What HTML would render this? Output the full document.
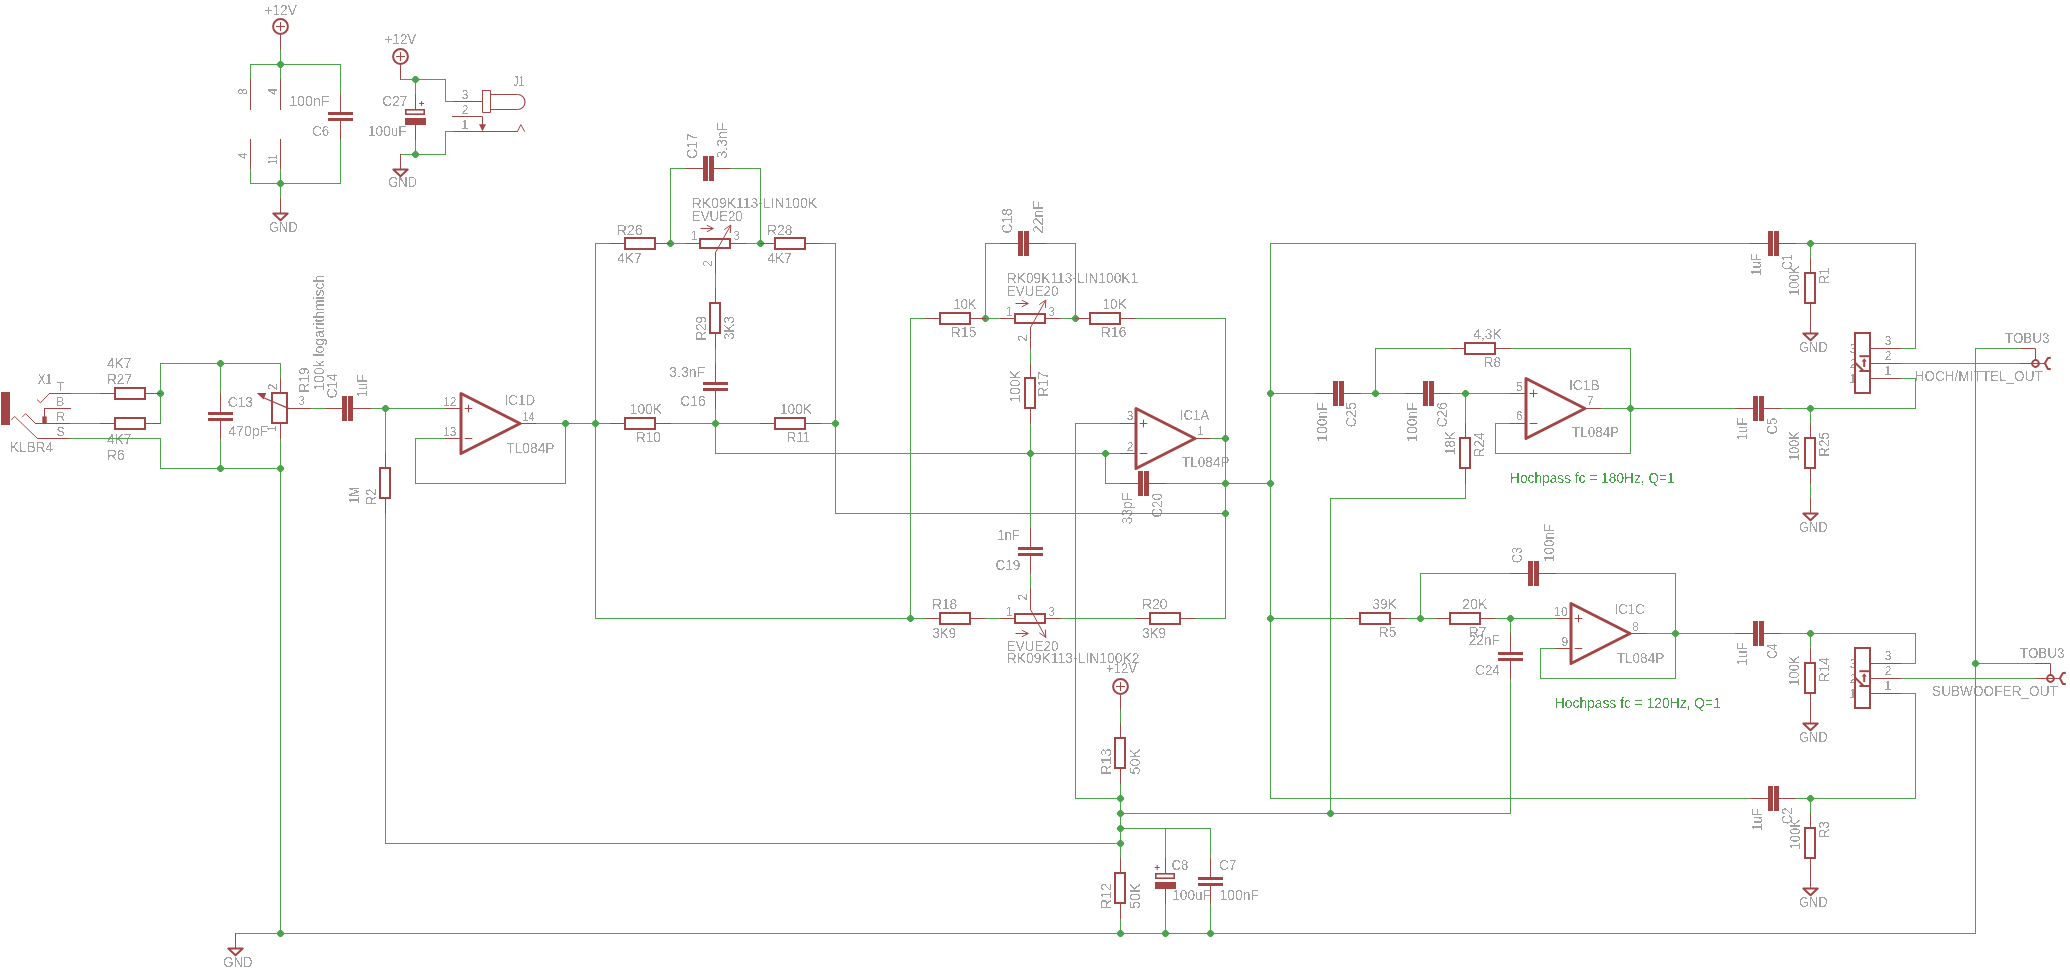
<!DOCTYPE html><html><head><meta charset="utf-8"><style>html,body{margin:0;padding:0;background:#fff;overflow:hidden}svg{display:block}text{font-family:"Liberation Sans",sans-serif}</style></head><body><svg width="2070" height="972" viewBox="0 0 2070 972"><rect width="2070" height="972" fill="#fff"/><defs><filter id="crisp" x="0" y="0" width="2070" height="972" filterUnits="userSpaceOnUse"><feComponentTransfer><feFuncA type="discrete" tableValues="0 1"/></feComponentTransfer></filter></defs><g fill="#a2a2a2" filter="url(#crisp)" font-family="Liberation Sans, sans-serif"><text x="264.5" y="14.8" font-size="14.5" textLength="32.3" lengthAdjust="spacingAndGlyphs">+12V</text><text x="289.2" y="105.9" font-size="14.5" textLength="40.23" lengthAdjust="spacing">100nF</text><text x="312.25" y="135.7" font-size="14.5" textLength="16.99" lengthAdjust="spacingAndGlyphs">C6</text><text transform="translate(246.7,95) rotate(-90)" font-size="12">8</text><text transform="translate(276.7,94.75) rotate(-90)" font-size="12">4</text><text transform="translate(246.7,159.05) rotate(-90)" font-size="12">4</text><text transform="translate(276.7,164.45) rotate(-90)" font-size="12" textLength="9.86" lengthAdjust="spacingAndGlyphs">11</text><text x="268.95" y="232.15" font-size="14.5" textLength="28.72" lengthAdjust="spacingAndGlyphs">GND</text><text x="384.7" y="44.05" font-size="14.5" textLength="31.59" lengthAdjust="spacingAndGlyphs">+12V</text><text x="382.15" y="106" font-size="14.5" textLength="25.4" lengthAdjust="spacingAndGlyphs">C27</text><text x="368" y="135.8" font-size="14.5" textLength="38.63" lengthAdjust="spacingAndGlyphs">100uF</text><text x="388.25" y="186.65" font-size="14.5" textLength="28.83" lengthAdjust="spacingAndGlyphs">GND</text><text x="512.95" y="85.7" font-size="14.5" textLength="11.42" lengthAdjust="spacingAndGlyphs">J1</text><text x="461.7" y="98.7" font-size="12">3</text><text x="461.7" y="113.8" font-size="12">2</text><text x="461.45" y="128.6" font-size="12">1</text><text x="37.7" y="383.9" font-size="14.5" textLength="14.31" lengthAdjust="spacingAndGlyphs">X1</text><text x="56.45" y="390.9" font-size="12.6">T</text><text x="55.9" y="405.6" font-size="12.6">B</text><text x="55.9" y="420.9" font-size="12.6">R</text><text x="56.4" y="435.9" font-size="12.6">S</text><text x="10.1" y="451.9" font-size="14.5" textLength="42.86" lengthAdjust="spacingAndGlyphs">KLBR4</text><text x="106.95" y="368.25" font-size="14.5" textLength="24.47" lengthAdjust="spacingAndGlyphs">4K7</text><text x="106.9" y="384.35" font-size="14.5" textLength="25.12" lengthAdjust="spacingAndGlyphs">R27</text><text x="106.95" y="443.65" font-size="14.5" textLength="24.47" lengthAdjust="spacingAndGlyphs">4K7</text><text x="106.9" y="459.65" font-size="14.5" textLength="17.78" lengthAdjust="spacingAndGlyphs">R6</text><text x="227.75" y="406.65" font-size="14.5" textLength="25.29" lengthAdjust="spacingAndGlyphs">C13</text><text x="228.25" y="435.65" font-size="14.5" textLength="39.85" lengthAdjust="spacingAndGlyphs">470pF</text><text x="298.2" y="405.25" font-size="12">3</text><text transform="translate(277.1,390.2) rotate(-90)" font-size="12">2</text><text transform="translate(276.3,431.85) rotate(-90)" font-size="12">1</text><text transform="translate(308.9,392.5) rotate(-90)" font-size="14.5" textLength="25.12" lengthAdjust="spacingAndGlyphs">R19</text><text transform="translate(323.7,390.5) rotate(-90)" font-size="14.5" textLength="115.72" lengthAdjust="spacingAndGlyphs">100k logarithmisch</text><text transform="translate(337,398.35) rotate(-90)" font-size="14.5" textLength="24.73" lengthAdjust="spacingAndGlyphs">C14</text><text transform="translate(367.1,397.2) rotate(-90)" font-size="14.5" textLength="22.34" lengthAdjust="spacingAndGlyphs">1uF</text><text transform="translate(375.7,505.1) rotate(-90)" font-size="14.5" textLength="16.47" lengthAdjust="spacingAndGlyphs">R2</text><text transform="translate(358.7,503.5) rotate(-90)" font-size="14.5" textLength="16.8" lengthAdjust="spacingAndGlyphs">1M</text><text x="443.35" y="405.7" font-size="12" textLength="13.01" lengthAdjust="spacing">12</text><text x="443.35" y="435.8" font-size="12" textLength="13.01" lengthAdjust="spacing">13</text><text x="522.45" y="420.8" font-size="12" textLength="12.18" lengthAdjust="spacingAndGlyphs">14</text><text x="504.55" y="404.8" font-size="14.5" textLength="30.56" lengthAdjust="spacingAndGlyphs">IC1D</text><text x="506.15" y="452.8" font-size="14.5" textLength="48.4" lengthAdjust="spacingAndGlyphs">TL084P</text><text x="616.5" y="234.65" font-size="14.5" textLength="26.21" lengthAdjust="spacing">R26</text><text x="617.25" y="262.65" font-size="14.5" textLength="24.37" lengthAdjust="spacingAndGlyphs">4K7</text><text x="767" y="234.65" font-size="14.5" textLength="25.44" lengthAdjust="spacingAndGlyphs">R28</text><text x="767.25" y="262.65" font-size="14.5" textLength="24.47" lengthAdjust="spacingAndGlyphs">4K7</text><text x="691.8" y="208.35" font-size="14.5" textLength="125.18" lengthAdjust="spacingAndGlyphs">RK09K113-LIN100K</text><text x="691.8" y="220.65" font-size="14.5" textLength="50.96" lengthAdjust="spacingAndGlyphs">EVUE20</text><text x="690.75" y="240.45" font-size="12">1</text><text x="733.2" y="240.45" font-size="12">3</text><text transform="translate(711.7,266.8) rotate(-90)" font-size="12">2</text><text transform="translate(696.9,158.65) rotate(-90)" font-size="14.5" textLength="25.4" lengthAdjust="spacingAndGlyphs">C17</text><text transform="translate(726.9,158.4) rotate(-90)" font-size="14.5" textLength="35.75" lengthAdjust="spacingAndGlyphs">3.3nF</text><text transform="translate(706.1,340.5) rotate(-90)" font-size="14.5" textLength="24.48" lengthAdjust="spacingAndGlyphs">R29</text><text transform="translate(734.2,340) rotate(-90)" font-size="14.5" textLength="23.99" lengthAdjust="spacingAndGlyphs">3K3</text><text x="669.3" y="376.65" font-size="14.5" textLength="35.75" lengthAdjust="spacingAndGlyphs">3.3nF</text><text x="680.15" y="406.15" font-size="14.5" textLength="25.5" lengthAdjust="spacingAndGlyphs">C16</text><text x="629.7" y="414.35" font-size="14.5" textLength="32.42" lengthAdjust="spacingAndGlyphs">100K</text><text x="635.9" y="441.95" font-size="14.5" textLength="24.87" lengthAdjust="spacingAndGlyphs">R10</text><text x="779.9" y="414.35" font-size="14.5" textLength="32.1" lengthAdjust="spacingAndGlyphs">100K</text><text x="787" y="441.95" font-size="14.5" textLength="22.87" lengthAdjust="spacingAndGlyphs">R11</text><text x="953.2" y="308.95" font-size="14.5" textLength="23.39" lengthAdjust="spacingAndGlyphs">10K</text><text x="950.7" y="337.25" font-size="14.5" textLength="25.76" lengthAdjust="spacingAndGlyphs">R15</text><text x="1102.5" y="308.95" font-size="14.5" textLength="24.23" lengthAdjust="spacingAndGlyphs">10K</text><text x="1100.5" y="337.25" font-size="14.5" textLength="26.11" lengthAdjust="spacing">R16</text><text x="1006.8" y="283.45" font-size="14.5" textLength="131.36" lengthAdjust="spacingAndGlyphs">RK09K113-LIN100K1</text><text x="1006.8" y="295.85" font-size="14.5" textLength="51.57" lengthAdjust="spacingAndGlyphs">EVUE20</text><text x="1005.75" y="315.65" font-size="12">1</text><text x="1048.2" y="315.65" font-size="12">3</text><text transform="translate(1027.2,341.5) rotate(-90)" font-size="12">2</text><text transform="translate(1012.4,233.45) rotate(-90)" font-size="14.5" textLength="24.98" lengthAdjust="spacingAndGlyphs">C18</text><text transform="translate(1042.7,233.45) rotate(-90)" font-size="14.5" textLength="32.51" lengthAdjust="spacing">22nF</text><text transform="translate(1019.7,402.4) rotate(-90)" font-size="14.5" textLength="32.21" lengthAdjust="spacingAndGlyphs">100K</text><text transform="translate(1048.2,396.7) rotate(-90)" font-size="14.5" textLength="25.23" lengthAdjust="spacingAndGlyphs">R17</text><text x="997.4" y="539.85" font-size="14.5" textLength="22.02" lengthAdjust="spacingAndGlyphs">1nF</text><text x="995.45" y="569.75" font-size="14.5" textLength="24.98" lengthAdjust="spacingAndGlyphs">C19</text><text x="932" y="609.05" font-size="14.5" textLength="25.23" lengthAdjust="spacingAndGlyphs">R18</text><text x="932.5" y="637.65" font-size="14.5" textLength="23.47" lengthAdjust="spacingAndGlyphs">3K9</text><text x="1141.8" y="609.05" font-size="14.5" textLength="25.86" lengthAdjust="spacing">R20</text><text x="1142.3" y="637.65" font-size="14.5" textLength="23.67" lengthAdjust="spacingAndGlyphs">3K9</text><text x="1006.8" y="650.65" font-size="14.5" textLength="51.57" lengthAdjust="spacingAndGlyphs">EVUE20</text><text x="1006.8" y="662.85" font-size="14.5" textLength="132.67" lengthAdjust="spacingAndGlyphs">RK09K113-LIN100K2</text><text x="1005.75" y="615.65" font-size="12">1</text><text x="1048.2" y="615.65" font-size="12">3</text><text transform="translate(1027.2,600.5) rotate(-90)" font-size="12">2</text><text x="1126.7" y="419.85" font-size="12">3</text><text x="1126.7" y="450.65" font-size="12">2</text><text x="1197.25" y="435.05" font-size="12">1</text><text x="1179.95" y="419.85" font-size="14.5" textLength="29.23" lengthAdjust="spacingAndGlyphs">IC1A</text><text x="1181.95" y="467.45" font-size="14.5" textLength="47.58" lengthAdjust="spacingAndGlyphs">TL084P</text><text transform="translate(1131.9,524.2) rotate(-90)" font-size="14.5" textLength="31.41" lengthAdjust="spacingAndGlyphs">33pF</text><text transform="translate(1161.8,517.55) rotate(-90)" font-size="14.5" textLength="24.52" lengthAdjust="spacingAndGlyphs">C20</text><text x="1106" y="673.25" font-size="14.5" textLength="31.18" lengthAdjust="spacingAndGlyphs">+12V</text><text transform="translate(1111,774.9) rotate(-90)" font-size="14.5" textLength="26.51" lengthAdjust="spacing">R13</text><text transform="translate(1139.5,774.4) rotate(-90)" font-size="14.5" textLength="25.71" lengthAdjust="spacing">50K</text><text transform="translate(1111,909.5) rotate(-90)" font-size="14.5" textLength="26.61" lengthAdjust="spacing">R12</text><text transform="translate(1139.5,909) rotate(-90)" font-size="14.5" textLength="25.81" lengthAdjust="spacing">50K</text><text x="1171.45" y="869.95" font-size="14.5" textLength="16.99" lengthAdjust="spacingAndGlyphs">C8</text><text x="1172.2" y="900.35" font-size="14.5" textLength="38.83" lengthAdjust="spacingAndGlyphs">100uF</text><text x="1219.35" y="869.65" font-size="14.5" textLength="17.1" lengthAdjust="spacingAndGlyphs">C7</text><text x="1219.5" y="900.35" font-size="14.5" textLength="39.56" lengthAdjust="spacingAndGlyphs">100nF</text><text x="223.25" y="966.9" font-size="14.5" textLength="29.14" lengthAdjust="spacingAndGlyphs">GND</text><text x="1473.25" y="339.15" font-size="14.5" textLength="28.36" lengthAdjust="spacingAndGlyphs">4,3K</text><text x="1483.8" y="366.65" font-size="14.5" textLength="17.35" lengthAdjust="spacingAndGlyphs">R8</text><text x="1568.95" y="389.65" font-size="14.5" textLength="30.7" lengthAdjust="spacingAndGlyphs">IC1B</text><text x="1571.95" y="437.35" font-size="14.5" textLength="47.27" lengthAdjust="spacingAndGlyphs">TL084P</text><text x="1516" y="390.65" font-size="12">5</text><text x="1516" y="420.45" font-size="12">6</text><text x="1587" y="405.05" font-size="12">7</text><text transform="translate(1326.6,441.9) rotate(-90)" font-size="14.5" textLength="39.67" lengthAdjust="spacingAndGlyphs">100nF</text><text transform="translate(1356.4,427.25) rotate(-90)" font-size="14.5" textLength="24.98" lengthAdjust="spacingAndGlyphs">C25</text><text transform="translate(1416.6,441.9) rotate(-90)" font-size="14.5" textLength="39.67" lengthAdjust="spacingAndGlyphs">100nF</text><text transform="translate(1446.9,427.25) rotate(-90)" font-size="14.5" textLength="24.98" lengthAdjust="spacingAndGlyphs">C26</text><text transform="translate(1455.2,454.7) rotate(-90)" font-size="14.5" textLength="23.39" lengthAdjust="spacingAndGlyphs">18K</text><text transform="translate(1484,457.3) rotate(-90)" font-size="14.5" textLength="25.08" lengthAdjust="spacingAndGlyphs">R24</text><text x="1510" y="482.8" font-size="14.5" textLength="164.71" lengthAdjust="spacingAndGlyphs" fill="#4aa24a">Hochpass fc = 180Hz, Q=1</text><text x="1372.5" y="608.65" font-size="14.5" textLength="24.26" lengthAdjust="spacingAndGlyphs">39K</text><text x="1378.8" y="636.85" font-size="14.5" textLength="17.46" lengthAdjust="spacingAndGlyphs">R5</text><text x="1462.35" y="608.65" font-size="14.5" textLength="24.93" lengthAdjust="spacingAndGlyphs">20K</text><text x="1468.9" y="636.85" font-size="14.5" textLength="17.35" lengthAdjust="spacingAndGlyphs">R7</text><text x="1468.45" y="644.65" font-size="14.5" textLength="31.55" lengthAdjust="spacingAndGlyphs">22nF</text><text x="1475.25" y="674.85" font-size="14.5" textLength="24.52" lengthAdjust="spacingAndGlyphs">C24</text><text transform="translate(1522.3,563.25) rotate(-90)" font-size="14.5" textLength="16.45" lengthAdjust="spacingAndGlyphs">C3</text><text transform="translate(1553.5,561.9) rotate(-90)" font-size="14.5" textLength="37.9" lengthAdjust="spacingAndGlyphs">100nF</text><text x="1554.05" y="616.05" font-size="12" textLength="13.61" lengthAdjust="spacing">10</text><text x="1561.5" y="645.95" font-size="12">9</text><text x="1632.3" y="631.25" font-size="12">8</text><text x="1614.65" y="614.25" font-size="14.5" textLength="30.03" lengthAdjust="spacingAndGlyphs">IC1C</text><text x="1616.75" y="662.95" font-size="14.5" textLength="47.48" lengthAdjust="spacingAndGlyphs">TL084P</text><text x="1554.8" y="707.8" font-size="14.5" textLength="166.02" lengthAdjust="spacingAndGlyphs" fill="#4aa24a">Hochpass fc = 120Hz, Q=1</text><text x="1798.95" y="352.15" font-size="14.5" textLength="28.72" lengthAdjust="spacingAndGlyphs">GND</text><text transform="translate(1761.4,275.8) rotate(-90)" font-size="14.5" textLength="22.45" lengthAdjust="spacingAndGlyphs">1uF</text><text transform="translate(1792.3,270.05) rotate(-90)" font-size="14.5" textLength="15.59" lengthAdjust="spacingAndGlyphs">C1</text><text transform="translate(1799.4,295.7) rotate(-90)" font-size="14.5" textLength="30.12" lengthAdjust="spacingAndGlyphs">100K</text><text transform="translate(1828.8,284.2) rotate(-90)" font-size="14.5" textLength="16.47" lengthAdjust="spacingAndGlyphs">R1</text><text x="1884.7" y="345.3" font-size="12">3</text><text x="1884.7" y="360.3" font-size="12">2</text><text x="1884.45" y="375.3" font-size="12">1</text><text x="1849.7" y="352.8" font-size="12">3</text><text x="1849.7" y="367.9" font-size="12">2</text><text x="1849.45" y="382.7" font-size="12">1</text><text x="1798.95" y="532.15" font-size="14.5" textLength="28.72" lengthAdjust="spacingAndGlyphs">GND</text><text transform="translate(1747,440.3) rotate(-90)" font-size="14.5" textLength="22.45" lengthAdjust="spacingAndGlyphs">1uF</text><text transform="translate(1776.8,434.55) rotate(-90)" font-size="14.5" textLength="16.77" lengthAdjust="spacingAndGlyphs">C5</text><text transform="translate(1799.4,460.7) rotate(-90)" font-size="14.5" textLength="29.39" lengthAdjust="spacingAndGlyphs">100K</text><text transform="translate(1828.8,456.9) rotate(-90)" font-size="14.5" textLength="24.91" lengthAdjust="spacingAndGlyphs">R25</text><text x="2004.95" y="342.8" font-size="14.5" textLength="44.58" lengthAdjust="spacingAndGlyphs">TOBU3</text><text x="1914.6" y="380.8" font-size="14.5" textLength="128.13" lengthAdjust="spacingAndGlyphs">HOCH/MITTEL_OUT</text><text x="1798.95" y="742.15" font-size="14.5" textLength="28.72" lengthAdjust="spacingAndGlyphs">GND</text><text transform="translate(1747,665.8) rotate(-90)" font-size="14.5" textLength="23.72" lengthAdjust="spacingAndGlyphs">1uF</text><text transform="translate(1776.8,658.85) rotate(-90)" font-size="14.5" textLength="15.37" lengthAdjust="spacingAndGlyphs">C4</text><text transform="translate(1799.4,685.7) rotate(-90)" font-size="14.5" textLength="30.12" lengthAdjust="spacingAndGlyphs">100K</text><text transform="translate(1828.8,681.9) rotate(-90)" font-size="14.5" textLength="24.66" lengthAdjust="spacingAndGlyphs">R14</text><text x="1884.7" y="660.3" font-size="12">3</text><text x="1884.7" y="675.3" font-size="12">2</text><text x="1884.45" y="690.3" font-size="12">1</text><text x="1849.7" y="667.8" font-size="12">3</text><text x="1849.7" y="682.9" font-size="12">2</text><text x="1849.45" y="697.7" font-size="12">1</text><text x="2019.95" y="657.9" font-size="14.5" textLength="44.58" lengthAdjust="spacingAndGlyphs">TOBU3</text><text x="1932.05" y="696.1" font-size="14.5" textLength="125.83" lengthAdjust="spacingAndGlyphs">SUBWOOFER_OUT</text><text x="1798.95" y="907.15" font-size="14.5" textLength="28.72" lengthAdjust="spacingAndGlyphs">GND</text><text transform="translate(1761.9,830.8) rotate(-90)" font-size="14.5" textLength="22.66" lengthAdjust="spacingAndGlyphs">1uF</text><text transform="translate(1792.4,824.25) rotate(-90)" font-size="14.5" textLength="16.77" lengthAdjust="spacingAndGlyphs">C2</text><text transform="translate(1800.1,849.5) rotate(-90)" font-size="14.5" textLength="30.44" lengthAdjust="spacingAndGlyphs">100K</text><text transform="translate(1828.8,838) rotate(-90)" font-size="14.5" textLength="16.91" lengthAdjust="spacingAndGlyphs">R3</text></g><g fill="none" stroke="#4ba34b" stroke-width="1" stroke-linecap="square" shape-rendering="crispEdges"><path d="M280.5,49.5 L280.5,64.5"/><path d="M250.5,79.5 L250.5,64.5 L340.5,64.5 L340.5,94.5"/><path d="M280.5,64.5 L280.5,79.5"/><path d="M250.5,168.5 L250.5,183.5 L340.5,183.5 L340.5,139.5"/><path d="M280.5,168.5 L280.5,198.5"/><path d="M400.5,79.5 L445.5,79.5 L445.5,101.5 L453.5,101.5"/><path d="M415.5,79.5 L415.5,94.5"/><path d="M415.5,139.5 L415.5,154.5"/><path d="M400.5,154.5 L445.5,154.5 L445.5,131.5 L453.5,131.5"/><path d="M70.5,393.5 L100.5,393.5"/><path d="M70.5,423.5 L100.5,423.5"/><path d="M160.5,423.5 L160.5,363.5 L280.5,363.5 L280.5,378.5"/><path d="M70.5,438.5 L160.5,438.5 L160.5,468.5 L280.5,468.5"/><path d="M220.5,363.5 L220.5,393.5"/><path d="M220.5,438.5 L220.5,468.5"/><path d="M280.5,438.5 L280.5,933.5"/><path d="M310.5,408.5 L325.5,408.5"/><path d="M370.5,408.5 L445.5,408.5"/><path d="M385.5,408.5 L385.5,453.5"/><path d="M385.5,513.5 L385.5,843.5 L1120.5,843.5"/><path d="M415.5,438.5 L445.5,438.5"/><path d="M415.5,438.5 L415.5,483.5 L565.5,483.5 L565.5,423.5"/><path d="M535.5,423.5 L610.5,423.5"/><path d="M610.5,243.5 L595.5,243.5 L595.5,618.5 L925.5,618.5"/><path d="M670.5,243.5 L685.5,243.5"/><path d="M745.5,243.5 L760.5,243.5"/><path d="M685.5,168.5 L670.5,168.5 L670.5,243.5"/><path d="M730.5,168.5 L760.5,168.5 L760.5,243.5"/><path d="M820.5,243.5 L835.5,243.5 L835.5,513.5 L1225.5,513.5"/><path d="M715.5,273.5 L715.5,288.5"/><path d="M715.5,348.5 L715.5,363.5"/><path d="M670.5,423.5 L760.5,423.5"/><path d="M820.5,423.5 L835.5,423.5"/><path d="M715.5,408.5 L715.5,453.5 L1120.5,453.5"/><path d="M925.5,318.5 L910.5,318.5 L910.5,618.5"/><path d="M985.5,318.5 L1000.5,318.5"/><path d="M1060.5,318.5 L1075.5,318.5"/><path d="M1000.5,243.5 L985.5,243.5 L985.5,318.5"/><path d="M1045.5,243.5 L1075.5,243.5 L1075.5,318.5"/><path d="M1135.5,318.5 L1225.5,318.5 L1225.5,618.5 L1195.5,618.5"/><path d="M1030.5,348.5 L1030.5,363.5"/><path d="M1030.5,423.5 L1030.5,528.5"/><path d="M1030.5,573.5 L1030.5,588.5"/><path d="M985.5,618.5 L1000.5,618.5"/><path d="M1060.5,618.5 L1135.5,618.5"/><path d="M1075.5,423.5 L1120.5,423.5"/><path d="M1075.5,423.5 L1075.5,798.5 L1120.5,798.5"/><path d="M1105.5,453.5 L1105.5,483.5 L1120.5,483.5"/><path d="M1165.5,483.5 L1270.5,483.5"/><path d="M1210.5,438.5 L1225.5,438.5"/><path d="M1120.5,709.5 L1120.5,723.5"/><path d="M1120.5,783.5 L1120.5,858.5"/><path d="M1120.5,918.5 L1120.5,933.5"/><path d="M1120.5,828.5 L1210.5,828.5 L1210.5,858.5"/><path d="M1165.5,828.5 L1165.5,858.5"/><path d="M1165.5,903.5 L1165.5,933.5"/><path d="M1210.5,903.5 L1210.5,933.5"/><path d="M1120.5,813.5 L1510.5,813.5"/><path d="M235.5,933.5 L1975.5,933.5"/><path d="M1270.5,243.5 L1270.5,798.5 L1750.5,798.5"/><path d="M1270.5,243.5 L1750.5,243.5"/><path d="M1270.5,393.5 L1315.5,393.5"/><path d="M1360.5,393.5 L1405.5,393.5"/><path d="M1450.5,393.5 L1510.5,393.5"/><path d="M1375.5,393.5 L1375.5,348.5 L1450.5,348.5"/><path d="M1510.5,348.5 L1630.5,348.5 L1630.5,453.5 L1495.5,453.5 L1495.5,423.5 L1510.5,423.5"/><path d="M1600.5,408.5 L1735.5,408.5"/><path d="M1465.5,393.5 L1465.5,423.5"/><path d="M1465.5,483.5 L1465.5,498.5 L1330.5,498.5 L1330.5,813.5"/><path d="M1270.5,618.5 L1345.5,618.5"/><path d="M1405.5,618.5 L1435.5,618.5"/><path d="M1495.5,618.5 L1555.5,618.5"/><path d="M1420.5,618.5 L1420.5,573.5 L1510.5,573.5"/><path d="M1555.5,573.5 L1675.5,573.5 L1675.5,678.5 L1540.5,678.5 L1540.5,648.5 L1555.5,648.5"/><path d="M1645.5,633.5 L1735.5,633.5"/><path d="M1510.5,618.5 L1510.5,633.5"/><path d="M1510.5,678.5 L1510.5,813.5"/><path d="M1795.5,243.5 L1915.5,243.5 L1915.5,348.5 L1900.5,348.5"/><path d="M1810.5,243.5 L1810.5,258.5"/><path d="M1780.5,408.5 L1915.5,408.5 L1915.5,378.5 L1900.5,378.5"/><path d="M1810.5,408.5 L1810.5,423.5"/><path d="M1810.5,483.5 L1810.5,498.5"/><path d="M1900.5,363.5 L2020.5,363.5"/><path d="M1975.5,348.5 L2020.5,348.5"/><path d="M1975.5,348.5 L1975.5,933.5"/><path d="M1780.5,633.5 L1915.5,633.5 L1915.5,663.5 L1900.5,663.5"/><path d="M1810.5,633.5 L1810.5,648.5"/><path d="M1900.5,678.5 L2035.5,678.5"/><path d="M1975.5,663.5 L2035.5,663.5"/><path d="M1795.5,798.5 L1915.5,798.5 L1915.5,693.5 L1900.5,693.5"/><path d="M1810.5,798.5 L1810.5,813.5"/></g><g fill="#4ba34b"><polygon points="279.5,60.9 281.5,60.9 284.1,63.5 284.1,65.5 281.5,68.1 279.5,68.1 276.9,65.5 276.9,63.5"/><polygon points="279.5,179.9 281.5,179.9 284.1,182.5 284.1,184.5 281.5,187.1 279.5,187.1 276.9,184.5 276.9,182.5"/><polygon points="414.5,75.9 416.5,75.9 419.1,78.5 419.1,80.5 416.5,83.1 414.5,83.1 411.9,80.5 411.9,78.5"/><polygon points="414.5,150.9 416.5,150.9 419.1,153.5 419.1,155.5 416.5,158.1 414.5,158.1 411.9,155.5 411.9,153.5"/><polygon points="159.5,389.9 161.5,389.9 164.1,392.5 164.1,394.5 161.5,397.1 159.5,397.1 156.9,394.5 156.9,392.5"/><polygon points="219.5,359.9 221.5,359.9 224.1,362.5 224.1,364.5 221.5,367.1 219.5,367.1 216.9,364.5 216.9,362.5"/><polygon points="219.5,464.9 221.5,464.9 224.1,467.5 224.1,469.5 221.5,472.1 219.5,472.1 216.9,469.5 216.9,467.5"/><polygon points="279.5,464.9 281.5,464.9 284.1,467.5 284.1,469.5 281.5,472.1 279.5,472.1 276.9,469.5 276.9,467.5"/><polygon points="384.5,404.9 386.5,404.9 389.1,407.5 389.1,409.5 386.5,412.1 384.5,412.1 381.9,409.5 381.9,407.5"/><polygon points="564.5,419.9 566.5,419.9 569.1,422.5 569.1,424.5 566.5,427.1 564.5,427.1 561.9,424.5 561.9,422.5"/><polygon points="594.5,419.9 596.5,419.9 599.1,422.5 599.1,424.5 596.5,427.1 594.5,427.1 591.9,424.5 591.9,422.5"/><polygon points="669.5,239.9 671.5,239.9 674.1,242.5 674.1,244.5 671.5,247.1 669.5,247.1 666.9,244.5 666.9,242.5"/><polygon points="759.5,239.9 761.5,239.9 764.1,242.5 764.1,244.5 761.5,247.1 759.5,247.1 756.9,244.5 756.9,242.5"/><polygon points="714.5,419.9 716.5,419.9 719.1,422.5 719.1,424.5 716.5,427.1 714.5,427.1 711.9,424.5 711.9,422.5"/><polygon points="834.5,419.9 836.5,419.9 839.1,422.5 839.1,424.5 836.5,427.1 834.5,427.1 831.9,424.5 831.9,422.5"/><polygon points="909.5,614.9 911.5,614.9 914.1,617.5 914.1,619.5 911.5,622.1 909.5,622.1 906.9,619.5 906.9,617.5"/><polygon points="984.5,314.9 986.5,314.9 989.1,317.5 989.1,319.5 986.5,322.1 984.5,322.1 981.9,319.5 981.9,317.5"/><polygon points="1074.5,314.9 1076.5,314.9 1079.1,317.5 1079.1,319.5 1076.5,322.1 1074.5,322.1 1071.9,319.5 1071.9,317.5"/><polygon points="1029.5,449.9 1031.5,449.9 1034.1,452.5 1034.1,454.5 1031.5,457.1 1029.5,457.1 1026.9,454.5 1026.9,452.5"/><polygon points="1104.5,449.9 1106.5,449.9 1109.1,452.5 1109.1,454.5 1106.5,457.1 1104.5,457.1 1101.9,454.5 1101.9,452.5"/><polygon points="1224.5,434.9 1226.5,434.9 1229.1,437.5 1229.1,439.5 1226.5,442.1 1224.5,442.1 1221.9,439.5 1221.9,437.5"/><polygon points="1224.5,479.9 1226.5,479.9 1229.1,482.5 1229.1,484.5 1226.5,487.1 1224.5,487.1 1221.9,484.5 1221.9,482.5"/><polygon points="1224.5,509.9 1226.5,509.9 1229.1,512.5 1229.1,514.5 1226.5,517.1 1224.5,517.1 1221.9,514.5 1221.9,512.5"/><polygon points="1119.5,794.9 1121.5,794.9 1124.1,797.5 1124.1,799.5 1121.5,802.1 1119.5,802.1 1116.9,799.5 1116.9,797.5"/><polygon points="1119.5,809.9 1121.5,809.9 1124.1,812.5 1124.1,814.5 1121.5,817.1 1119.5,817.1 1116.9,814.5 1116.9,812.5"/><polygon points="1119.5,824.9 1121.5,824.9 1124.1,827.5 1124.1,829.5 1121.5,832.1 1119.5,832.1 1116.9,829.5 1116.9,827.5"/><polygon points="1119.5,839.9 1121.5,839.9 1124.1,842.5 1124.1,844.5 1121.5,847.1 1119.5,847.1 1116.9,844.5 1116.9,842.5"/><polygon points="1329.5,809.9 1331.5,809.9 1334.1,812.5 1334.1,814.5 1331.5,817.1 1329.5,817.1 1326.9,814.5 1326.9,812.5"/><polygon points="279.5,929.9 281.5,929.9 284.1,932.5 284.1,934.5 281.5,937.1 279.5,937.1 276.9,934.5 276.9,932.5"/><polygon points="1119.5,929.9 1121.5,929.9 1124.1,932.5 1124.1,934.5 1121.5,937.1 1119.5,937.1 1116.9,934.5 1116.9,932.5"/><polygon points="1164.5,929.9 1166.5,929.9 1169.1,932.5 1169.1,934.5 1166.5,937.1 1164.5,937.1 1161.9,934.5 1161.9,932.5"/><polygon points="1209.5,929.9 1211.5,929.9 1214.1,932.5 1214.1,934.5 1211.5,937.1 1209.5,937.1 1206.9,934.5 1206.9,932.5"/><polygon points="1269.5,389.9 1271.5,389.9 1274.1,392.5 1274.1,394.5 1271.5,397.1 1269.5,397.1 1266.9,394.5 1266.9,392.5"/><polygon points="1269.5,479.9 1271.5,479.9 1274.1,482.5 1274.1,484.5 1271.5,487.1 1269.5,487.1 1266.9,484.5 1266.9,482.5"/><polygon points="1269.5,614.9 1271.5,614.9 1274.1,617.5 1274.1,619.5 1271.5,622.1 1269.5,622.1 1266.9,619.5 1266.9,617.5"/><polygon points="1374.5,389.9 1376.5,389.9 1379.1,392.5 1379.1,394.5 1376.5,397.1 1374.5,397.1 1371.9,394.5 1371.9,392.5"/><polygon points="1464.5,389.9 1466.5,389.9 1469.1,392.5 1469.1,394.5 1466.5,397.1 1464.5,397.1 1461.9,394.5 1461.9,392.5"/><polygon points="1629.5,404.9 1631.5,404.9 1634.1,407.5 1634.1,409.5 1631.5,412.1 1629.5,412.1 1626.9,409.5 1626.9,407.5"/><polygon points="1419.5,614.9 1421.5,614.9 1424.1,617.5 1424.1,619.5 1421.5,622.1 1419.5,622.1 1416.9,619.5 1416.9,617.5"/><polygon points="1509.5,614.9 1511.5,614.9 1514.1,617.5 1514.1,619.5 1511.5,622.1 1509.5,622.1 1506.9,619.5 1506.9,617.5"/><polygon points="1674.5,629.9 1676.5,629.9 1679.1,632.5 1679.1,634.5 1676.5,637.1 1674.5,637.1 1671.9,634.5 1671.9,632.5"/><polygon points="1809.5,239.9 1811.5,239.9 1814.1,242.5 1814.1,244.5 1811.5,247.1 1809.5,247.1 1806.9,244.5 1806.9,242.5"/><polygon points="1809.5,404.9 1811.5,404.9 1814.1,407.5 1814.1,409.5 1811.5,412.1 1809.5,412.1 1806.9,409.5 1806.9,407.5"/><polygon points="1974.5,659.9 1976.5,659.9 1979.1,662.5 1979.1,664.5 1976.5,667.1 1974.5,667.1 1971.9,664.5 1971.9,662.5"/><polygon points="1809.5,629.9 1811.5,629.9 1814.1,632.5 1814.1,634.5 1811.5,637.1 1809.5,637.1 1806.9,634.5 1806.9,632.5"/><polygon points="1809.5,794.9 1811.5,794.9 1814.1,797.5 1814.1,799.5 1811.5,802.1 1809.5,802.1 1806.9,799.5 1806.9,797.5"/></g><g fill="none" stroke="#a44545" stroke-width="1"><circle cx="280.5" cy="26.5" r="7.4" stroke-width="2"/><path d="M276,26.5 L285,26.5" stroke-width="1"/><path d="M280.5,22 L280.5,31" stroke-width="1"/><path d="M280.5,35.5 L280.5,49.5" stroke-linecap="square"/><path d="M250.5,79.5 L250.5,109.5" stroke-linecap="square"/><path d="M280.5,79.5 L280.5,109.5" stroke-linecap="square"/><path d="M250.5,139.5 L250.5,168.5" stroke-linecap="square"/><path d="M280.5,139.5 L280.5,168.5" stroke-linecap="square"/><path d="M340.5,94.5 L340.5,111.5" stroke-linecap="square"/><path d="M340.5,121.5 L340.5,139.5" stroke-linecap="square"/><path d="M280.5,198.5 L280.5,213.5" stroke-linecap="square"/><path d="M273.3,213.5 L287.7,213.5 L280.5,220.2 Z" stroke-width="2" stroke-linejoin="round"/><circle cx="400.5" cy="56.5" r="7.4" stroke-width="2"/><path d="M396,56.5 L405,56.5" stroke-width="1"/><path d="M400.5,52 L400.5,61" stroke-width="1"/><path d="M400.5,65.5 L400.5,79.5" stroke-linecap="square"/><path d="M400.5,65.5 L400.5,79.5" stroke-linecap="square"/><path d="M415.5,94.5 L415.5,109.5" stroke-linecap="square"/><path d="M415.5,125.5 L415.5,139.5" stroke-linecap="square"/><rect x="405.8" y="109.8" width="18.4" height="4.4" stroke-width="1.6"/><path d="M419.1,103.5 L424.1,103.5" stroke-width="1"/><path d="M421.6,101 L421.6,106" stroke-width="1"/><path d="M400.5,154.5 L400.5,168.5" stroke-linecap="square"/><path d="M393.3,169.5 L407.7,169.5 L400.5,176.2 Z" stroke-width="2" stroke-linejoin="round"/><path d="M453.5,101.5 L482.5,101.5" stroke-linecap="square"/><path d="M482.5,90.5 L490.5,90.5 L490.5,112.5 L482.5,112.5 L482.5,90.5" stroke-width="1" stroke-linecap="square"/><path d="M490.2,94.5 L517.5,94.5" stroke-width="1"/><path d="M490.2,109.5 L517.5,109.5" stroke-width="1"/><path d="M517.5,94.5 A7.5,7.5 0 0 1 517.5,109.5" stroke-width="1.2"/><path d="M452.5,116.5 L482.5,116.5 L482.5,124.5" stroke-linecap="square"/><path d="M453.5,131.5 L517.5,131.5" stroke-linecap="square"/><path d="M517.5,131.5 L520.8,124.6 L524.8,131.8" stroke-width="1"/><path d="M49.5,393.5 L69.5,393.5" stroke-linecap="square"/><path d="M37,399.6 L40.5,402.8 L49.5,393.5" stroke-width="1"/><path d="M44.5,408.5 L70.5,408.5" stroke-linecap="square"/><path d="M44.5,408.5 L44.5,417.5" stroke-linecap="square"/><path d="M35.5,423.5 L69.5,423.5" stroke-linecap="square"/><path d="M22.2,417.2 L25.6,413.6 L35.5,423.5" stroke-width="1"/><path d="M37.5,438.5 L69.5,438.5" stroke-linecap="square"/><path d="M11.2,420.2 L14.6,416.4 L37.5,438.5" stroke-width="1"/><path d="M100.5,393.5 L113.5,393.5" stroke-linecap="square"/><path d="M146.5,393.5 L160.5,393.5" stroke-linecap="square"/><rect x="115" y="388" width="30" height="11" stroke-width="2"/><path d="M100.5,423.5 L113.5,423.5" stroke-linecap="square"/><path d="M146.5,423.5 L160.5,423.5" stroke-linecap="square"/><rect x="115" y="418" width="30" height="11" stroke-width="2"/><path d="M220.5,393.5 L220.5,411.5" stroke-linecap="square"/><path d="M220.5,421.5 L220.5,438.5" stroke-linecap="square"/><path d="M280.5,378.5 L280.5,391.5" stroke-linecap="square"/><path d="M280.5,424.5 L280.5,438.5" stroke-linecap="square"/><rect x="272" y="393" width="15" height="30" stroke-width="2"/><path d="M288.5,408.5 L310.5,408.5" stroke-linecap="square"/><path d="M289,408.6 L262.5,397.2" stroke-width="1.2"/><path d="M325.5,408.5 L341.5,408.5" stroke-linecap="square"/><path d="M353.5,408.5 L370.5,408.5" stroke-linecap="square"/><path d="M385.5,453.5 L385.5,466.5" stroke-linecap="square"/><path d="M385.5,499.5 L385.5,513.5" stroke-linecap="square"/><rect x="380" y="468" width="10" height="30" stroke-width="2"/><path d="M461,393.5 L520,423.5 L461,453.5 Z" stroke-width="3" stroke-linejoin="round"/><path d="M445.5,408.5 L459.5,408.5" stroke-linecap="square"/><path d="M445.5,438.5 L459.5,438.5" stroke-linecap="square"/><path d="M521.5,423.5 L535.5,423.5" stroke-linecap="square"/><path d="M464.7,408.5 L472.3,408.5" stroke-width="1"/><path d="M468.5,404.7 L468.5,412.3" stroke-width="1"/><path d="M464.7,438.5 L472.3,438.5" stroke-width="1"/><path d="M610.5,243.5 L623.5,243.5" stroke-linecap="square"/><path d="M656.5,243.5 L670.5,243.5" stroke-linecap="square"/><rect x="625" y="238" width="30" height="11" stroke-width="2"/><path d="M760.5,243.5 L773.5,243.5" stroke-linecap="square"/><path d="M806.5,243.5 L820.5,243.5" stroke-linecap="square"/><rect x="775" y="238" width="30" height="11" stroke-width="2"/><path d="M685.5,243.5 L698.5,243.5" stroke-linecap="square"/><path d="M731.5,243.5 L745.5,243.5" stroke-linecap="square"/><rect x="700" y="239" width="30" height="9" stroke-width="2"/><path d="M715.5,252.5 L715.5,273.5" stroke-linecap="square"/><path d="M715.5,252.5 L730.8,225" stroke-width="1"/><path d="M730.8,225 L724.26,229.6" stroke-width="1"/><path d="M730.8,225 L730.34,232.99" stroke-width="1"/><path d="M700.5,228.5 L713.3,228.5" stroke-width="1"/><path d="M706.8,225.2 L713.3,228.5 L706.8,231.8" stroke-width="1"/><path d="M685.5,168.5 L702.5,168.5" stroke-linecap="square"/><path d="M714.5,168.5 L730.5,168.5" stroke-linecap="square"/><path d="M715.5,288.5 L715.5,301.5" stroke-linecap="square"/><path d="M715.5,334.5 L715.5,348.5" stroke-linecap="square"/><rect x="710" y="303" width="10" height="30" stroke-width="2"/><path d="M715.5,363.5 L715.5,381.5" stroke-linecap="square"/><path d="M715.5,391.5 L715.5,408.5" stroke-linecap="square"/><path d="M610.5,423.5 L623.5,423.5" stroke-linecap="square"/><path d="M656.5,423.5 L670.5,423.5" stroke-linecap="square"/><rect x="625" y="418" width="30" height="11" stroke-width="2"/><path d="M760.5,423.5 L773.5,423.5" stroke-linecap="square"/><path d="M806.5,423.5 L820.5,423.5" stroke-linecap="square"/><rect x="775" y="418" width="30" height="11" stroke-width="2"/><path d="M925.5,318.5 L938.5,318.5" stroke-linecap="square"/><path d="M971.5,318.5 L985.5,318.5" stroke-linecap="square"/><rect x="940" y="313" width="30" height="11" stroke-width="2"/><path d="M1075.5,318.5 L1088.5,318.5" stroke-linecap="square"/><path d="M1121.5,318.5 L1135.5,318.5" stroke-linecap="square"/><rect x="1090" y="313" width="30" height="11" stroke-width="2"/><path d="M1000.5,318.5 L1013.5,318.5" stroke-linecap="square"/><path d="M1046.5,318.5 L1060.5,318.5" stroke-linecap="square"/><rect x="1015" y="314" width="30" height="9" stroke-width="2"/><path d="M1030.5,327.5 L1030.5,348.5" stroke-linecap="square"/><path d="M1030.5,327.5 L1045.8,300" stroke-width="1"/><path d="M1045.8,300 L1039.26,304.6" stroke-width="1"/><path d="M1045.8,300 L1045.34,307.99" stroke-width="1"/><path d="M1015.5,303.5 L1028.3,303.5" stroke-width="1"/><path d="M1021.8,300.2 L1028.3,303.5 L1021.8,306.8" stroke-width="1"/><path d="M1000.5,243.5 L1017.5,243.5" stroke-linecap="square"/><path d="M1029.5,243.5 L1045.5,243.5" stroke-linecap="square"/><path d="M1030.5,363.5 L1030.5,376.5" stroke-linecap="square"/><path d="M1030.5,409.5 L1030.5,423.5" stroke-linecap="square"/><rect x="1025" y="378" width="10" height="30" stroke-width="2"/><path d="M1030.5,528.5 L1030.5,546.5" stroke-linecap="square"/><path d="M1030.5,556.5 L1030.5,573.5" stroke-linecap="square"/><path d="M925.5,618.5 L938.5,618.5" stroke-linecap="square"/><path d="M971.5,618.5 L985.5,618.5" stroke-linecap="square"/><rect x="940" y="613" width="30" height="11" stroke-width="2"/><path d="M1135.5,618.5 L1148.5,618.5" stroke-linecap="square"/><path d="M1181.5,618.5 L1195.5,618.5" stroke-linecap="square"/><rect x="1150" y="613" width="30" height="11" stroke-width="2"/><path d="M1000.5,618.5 L1013.5,618.5" stroke-linecap="square"/><path d="M1046.5,618.5 L1060.5,618.5" stroke-linecap="square"/><rect x="1015" y="614" width="30" height="9" stroke-width="2"/><path d="M1030.5,588.5 L1030.5,609.5" stroke-linecap="square"/><path d="M1030.5,609.5 L1045.8,637.5" stroke-width="1"/><path d="M1045.8,637.5 L1045.4,629.51" stroke-width="1"/><path d="M1045.8,637.5 L1039.29,632.85" stroke-width="1"/><path d="M1015.5,633.5 L1028.3,633.5" stroke-width="1"/><path d="M1021.8,630.2 L1028.3,633.5 L1021.8,636.8" stroke-width="1"/><path d="M1136,408.5 L1195,438.5 L1136,468.5 Z" stroke-width="3" stroke-linejoin="round"/><path d="M1120.5,423.5 L1134.5,423.5" stroke-linecap="square"/><path d="M1120.5,453.5 L1134.5,453.5" stroke-linecap="square"/><path d="M1196.5,438.5 L1210.5,438.5" stroke-linecap="square"/><path d="M1139.7,423.5 L1147.3,423.5" stroke-width="1"/><path d="M1143.5,419.7 L1143.5,427.3" stroke-width="1"/><path d="M1139.7,453.5 L1147.3,453.5" stroke-width="1"/><path d="M1120.5,483.5 L1137.5,483.5" stroke-linecap="square"/><path d="M1149.5,483.5 L1165.5,483.5" stroke-linecap="square"/><circle cx="1120.5" cy="686.5" r="7.4" stroke-width="2"/><path d="M1116,686.5 L1125,686.5" stroke-width="1"/><path d="M1120.5,682 L1120.5,691" stroke-width="1"/><path d="M1120.5,695.5 L1120.5,709.5" stroke-linecap="square"/><path d="M1120.5,723.5 L1120.5,736.5" stroke-linecap="square"/><path d="M1120.5,769.5 L1120.5,783.5" stroke-linecap="square"/><rect x="1115" y="738" width="10" height="30" stroke-width="2"/><path d="M1120.5,858.5 L1120.5,871.5" stroke-linecap="square"/><path d="M1120.5,904.5 L1120.5,918.5" stroke-linecap="square"/><rect x="1115" y="873" width="10" height="30" stroke-width="2"/><path d="M1165.5,858.5 L1165.5,873.5" stroke-linecap="square"/><path d="M1165.5,889.5 L1165.5,903.5" stroke-linecap="square"/><rect x="1155.8" y="873.8" width="18.4" height="4.4" stroke-width="1.6"/><path d="M1154.7,867.5 L1159.7,867.5" stroke-width="1"/><path d="M1157.2,865 L1157.2,870" stroke-width="1"/><path d="M1210.5,858.5 L1210.5,876.5" stroke-linecap="square"/><path d="M1210.5,886.5 L1210.5,903.5" stroke-linecap="square"/><path d="M235.5,933.5 L235.5,947.5" stroke-linecap="square"/><path d="M228.3,948.5 L242.7,948.5 L235.5,955.2 Z" stroke-width="2" stroke-linejoin="round"/><path d="M1315.5,393.5 L1332.5,393.5" stroke-linecap="square"/><path d="M1344.5,393.5 L1360.5,393.5" stroke-linecap="square"/><path d="M1405.5,393.5 L1422.5,393.5" stroke-linecap="square"/><path d="M1434.5,393.5 L1450.5,393.5" stroke-linecap="square"/><path d="M1450.5,348.5 L1463.5,348.5" stroke-linecap="square"/><path d="M1496.5,348.5 L1510.5,348.5" stroke-linecap="square"/><rect x="1465" y="343" width="30" height="11" stroke-width="2"/><path d="M1526,378.5 L1585,408.5 L1526,438.5 Z" stroke-width="3" stroke-linejoin="round"/><path d="M1510.5,393.5 L1524.5,393.5" stroke-linecap="square"/><path d="M1510.5,423.5 L1524.5,423.5" stroke-linecap="square"/><path d="M1586.5,408.5 L1600.5,408.5" stroke-linecap="square"/><path d="M1529.7,393.5 L1537.3,393.5" stroke-width="1"/><path d="M1533.5,389.7 L1533.5,397.3" stroke-width="1"/><path d="M1529.7,423.5 L1537.3,423.5" stroke-width="1"/><path d="M1465.5,423.5 L1465.5,436.5" stroke-linecap="square"/><path d="M1465.5,469.5 L1465.5,483.5" stroke-linecap="square"/><rect x="1460" y="438" width="10" height="30" stroke-width="2"/><path d="M1345.5,618.5 L1358.5,618.5" stroke-linecap="square"/><path d="M1391.5,618.5 L1405.5,618.5" stroke-linecap="square"/><rect x="1360" y="613" width="30" height="11" stroke-width="2"/><path d="M1435.5,618.5 L1448.5,618.5" stroke-linecap="square"/><path d="M1481.5,618.5 L1495.5,618.5" stroke-linecap="square"/><rect x="1450" y="613" width="30" height="11" stroke-width="2"/><path d="M1510.5,573.5 L1527.5,573.5" stroke-linecap="square"/><path d="M1539.5,573.5 L1555.5,573.5" stroke-linecap="square"/><path d="M1571,603.5 L1630,633.5 L1571,663.5 Z" stroke-width="3" stroke-linejoin="round"/><path d="M1555.5,618.5 L1569.5,618.5" stroke-linecap="square"/><path d="M1555.5,648.5 L1569.5,648.5" stroke-linecap="square"/><path d="M1631.5,633.5 L1645.5,633.5" stroke-linecap="square"/><path d="M1574.7,618.5 L1582.3,618.5" stroke-width="1"/><path d="M1578.5,614.7 L1578.5,622.3" stroke-width="1"/><path d="M1574.7,648.5 L1582.3,648.5" stroke-width="1"/><path d="M1510.5,633.5 L1510.5,651.5" stroke-linecap="square"/><path d="M1510.5,661.5 L1510.5,678.5" stroke-linecap="square"/><path d="M1750.5,243.5 L1767.5,243.5" stroke-linecap="square"/><path d="M1779.5,243.5 L1795.5,243.5" stroke-linecap="square"/><path d="M1810.5,258.5 L1810.5,271.5" stroke-linecap="square"/><path d="M1810.5,304.5 L1810.5,318.5" stroke-linecap="square"/><rect x="1805" y="273" width="10" height="30" stroke-width="2"/><path d="M1810.5,318.5 L1810.5,333.5" stroke-linecap="square"/><path d="M1803.3,333.5 L1817.7,333.5 L1810.5,340.2 Z" stroke-width="2" stroke-linejoin="round"/><rect x="1855" y="333" width="15" height="60" stroke-width="2" fill="#fff"/><path d="M1871.5,348.5 L1900.5,348.5" stroke-linecap="square"/><path d="M1871.5,363.5 L1900.5,363.5" stroke-linecap="square"/><path d="M1871.5,378.5 L1900.5,378.5" stroke-linecap="square"/><path d="M1859.4,356.2 L1869.5,356.2" stroke-width="2"/><path d="M1859.4,371 L1869.5,371" stroke-width="2"/><path d="M1855.2,362.8 L1863.6,371" stroke-width="2"/><path d="M1864.2,367 L1864.2,360" stroke-width="2"/><path d="M1735.5,408.5 L1752.5,408.5" stroke-linecap="square"/><path d="M1764.5,408.5 L1780.5,408.5" stroke-linecap="square"/><path d="M1810.5,423.5 L1810.5,436.5" stroke-linecap="square"/><path d="M1810.5,469.5 L1810.5,483.5" stroke-linecap="square"/><rect x="1805" y="438" width="10" height="30" stroke-width="2"/><path d="M1810.5,498.5 L1810.5,513.5" stroke-linecap="square"/><path d="M1803.3,513.5 L1817.7,513.5 L1810.5,520.2 Z" stroke-width="2" stroke-linejoin="round"/><path d="M2020.5,348.5 L2035.5,348.5 L2035.5,358.5" stroke-linecap="square"/><path d="M2020.5,363.5 L2044.5,363.5" stroke-linecap="square"/><circle cx="2035.5" cy="363.5" r="3.4" stroke-width="2"/><path d="M2050.8,357.7 L2047.8,358.2 L2044.9,363.3 L2047.8,368.8 L2050.8,369.3" stroke-width="2"/><path d="M1735.5,633.5 L1752.5,633.5" stroke-linecap="square"/><path d="M1764.5,633.5 L1780.5,633.5" stroke-linecap="square"/><path d="M1810.5,648.5 L1810.5,661.5" stroke-linecap="square"/><path d="M1810.5,694.5 L1810.5,708.5" stroke-linecap="square"/><rect x="1805" y="663" width="10" height="30" stroke-width="2"/><path d="M1810.5,708.5 L1810.5,723.5" stroke-linecap="square"/><path d="M1803.3,723.5 L1817.7,723.5 L1810.5,730.2 Z" stroke-width="2" stroke-linejoin="round"/><rect x="1855" y="648" width="15" height="60" stroke-width="2" fill="#fff"/><path d="M1871.5,663.5 L1900.5,663.5" stroke-linecap="square"/><path d="M1871.5,678.5 L1900.5,678.5" stroke-linecap="square"/><path d="M1871.5,693.5 L1900.5,693.5" stroke-linecap="square"/><path d="M1859.4,671.2 L1869.5,671.2" stroke-width="2"/><path d="M1859.4,686 L1869.5,686" stroke-width="2"/><path d="M1855.2,677.8 L1863.6,686" stroke-width="2"/><path d="M1864.2,682 L1864.2,675" stroke-width="2"/><path d="M2035.5,663.5 L2050.5,663.5 L2050.5,673.5" stroke-linecap="square"/><path d="M2035.5,678.5 L2059.5,678.5" stroke-linecap="square"/><circle cx="2050.5" cy="678.5" r="3.4" stroke-width="2"/><path d="M2065.8,672.7 L2062.8,673.2 L2059.9,678.3 L2062.8,683.8 L2065.8,684.3" stroke-width="2"/><path d="M1750.5,798.5 L1767.5,798.5" stroke-linecap="square"/><path d="M1779.5,798.5 L1795.5,798.5" stroke-linecap="square"/><path d="M1810.5,813.5 L1810.5,826.5" stroke-linecap="square"/><path d="M1810.5,859.5 L1810.5,873.5" stroke-linecap="square"/><rect x="1805" y="828" width="10" height="30" stroke-width="2"/><path d="M1810.5,873.5 L1810.5,888.5" stroke-linecap="square"/><path d="M1803.3,888.5 L1817.7,888.5 L1810.5,895.2 Z" stroke-width="2" stroke-linejoin="round"/></g><g fill="#a44545"><rect x="328" y="112" width="25" height="3"/><rect x="328" y="118" width="25" height="3"/><rect x="405" y="118" width="21" height="7"/><polygon points="479,124.2 486,124.2 482.5,131.2"/><rect x="1" y="392" width="9" height="33"/><rect x="42.3" y="416.4" width="4.4" height="6.6"/><rect x="208" y="412" width="25" height="3"/><rect x="208" y="418" width="25" height="3"/><polygon points="256.8,393.0 266.2,393.0 263.6,399.4"/><rect x="342" y="396" width="5" height="25"/><rect x="348" y="396" width="5" height="25"/><rect x="703" y="156" width="5" height="25"/><rect x="709" y="156" width="5" height="25"/><rect x="703" y="382" width="25" height="3"/><rect x="703" y="388" width="25" height="3"/><rect x="1018" y="231" width="5" height="25"/><rect x="1024" y="231" width="5" height="25"/><rect x="1018" y="547" width="25" height="3"/><rect x="1018" y="553" width="25" height="3"/><rect x="1138" y="471" width="5" height="25"/><rect x="1144" y="471" width="5" height="25"/><rect x="1155" y="882" width="21" height="7"/><rect x="1198" y="877" width="25" height="3"/><rect x="1198" y="883" width="25" height="3"/><rect x="1333" y="381" width="5" height="25"/><rect x="1339" y="381" width="5" height="25"/><rect x="1423" y="381" width="5" height="25"/><rect x="1429" y="381" width="5" height="25"/><rect x="1528" y="561" width="5" height="25"/><rect x="1534" y="561" width="5" height="25"/><rect x="1498" y="652" width="25" height="3"/><rect x="1498" y="658" width="25" height="3"/><rect x="1768" y="231" width="5" height="25"/><rect x="1774" y="231" width="5" height="25"/><polygon points="1861.6,361.5 1866.8,361.5 1864.2,358.2"/><rect x="1753" y="396" width="5" height="25"/><rect x="1759" y="396" width="5" height="25"/><rect x="1753" y="621" width="5" height="25"/><rect x="1759" y="621" width="5" height="25"/><polygon points="1861.6,676.5 1866.8,676.5 1864.2,673.2"/><rect x="1768" y="786" width="5" height="25"/><rect x="1774" y="786" width="5" height="25"/></g></svg></body></html>
